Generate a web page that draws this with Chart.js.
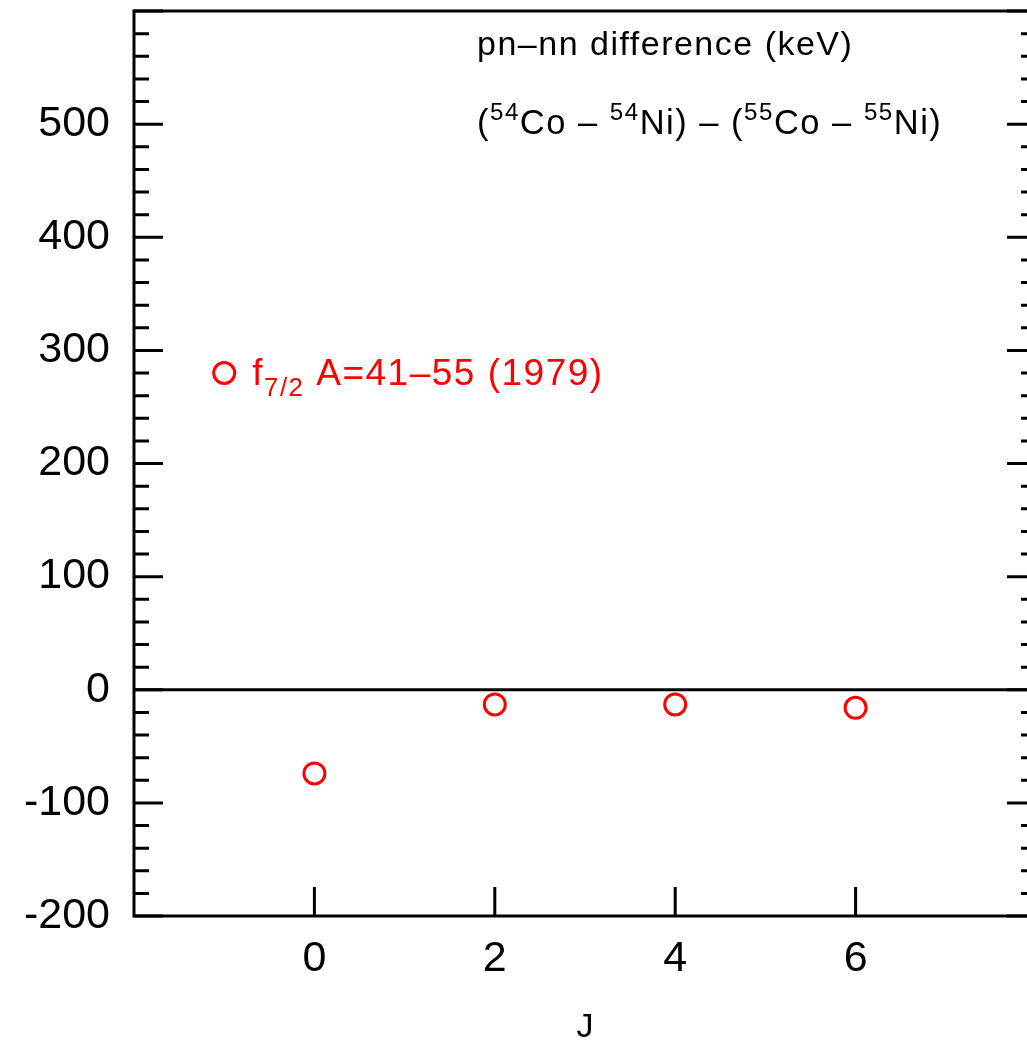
<!DOCTYPE html>
<html>
<head>
<meta charset="utf-8">
<script src="https://cdn.jsdelivr.net/npm/chart.js@4.4.1/dist/chart.umd.min.js"></script>
<style>
  html, body { margin: 0; padding: 0; background: #fff; overflow: hidden; }
  #wrap { width: 1027px; height: 1042px; overflow: hidden; }
  canvas { display: block; max-width: none; }
</style>
</head>
<body>
<div id="wrap"><canvas id="myChart" width="1036" height="1042"></canvas></div>
<script>
// datos del grafico
const jValues = [0, 2, 4, 6];
const pnDiff = [-74, -13, -13, -16];
const xTickValues = [0, 2, 4, 6];
const yMajorStep = 100;
const yMinorStep = 20;
const legendPoint = [-1, 280];

const RED = 'rgb(255,0,0)';
const FONT = '"Liberation Sans", Arial, Helvetica, sans-serif';

// escribe texto con superindices y subindices
function drawRich(ctx, x, y, parts, size, color) {
    ctx.save();
    ctx.fillStyle = color;
    ctx.textBaseline = 'alphabetic';
    ctx.textAlign = 'left';
    ctx.letterSpacing = '1.5px';
    for (const [txt, kind] of parts) {
        let s = size, dy = 0;
        if (kind === 'sup') { s = size * 0.7; dy = -size * 0.4; }
        if (kind === 'sub') { s = size * 0.7; dy = size * 0.3; }
        ctx.font = s + 'px ' + FONT;
        ctx.fillText(txt, x, y + dy);
        x += ctx.measureText(txt).width;
    }
    ctx.restore();
}

// marcos, ticks hacia adentro y anotaciones
const framePlugin = {
    id: 'frame',
    afterDraw(chart) {
        const ctx = chart.ctx;
        const xs = chart.scales.x, ys = chart.scales.y;
        const a = chart.chartArea;
        ctx.save();
        ctx.strokeStyle = '#000';
        ctx.lineWidth = 3;
        ctx.lineCap = 'butt';

        // marco
        ctx.beginPath();
        ctx.rect(a.left, a.top, a.right - a.left, a.bottom - a.top);
        ctx.stroke();

        // linea del cero
        const y0 = ys.getPixelForValue(0);
        ctx.beginPath();
        ctx.moveTo(a.left, y0);
        ctx.lineTo(a.right, y0);
        ctx.stroke();

        // ticks eje y (izq y der)
        ctx.beginPath();
        for (let v = ys.min; v <= ys.max; v += yMinorStep) {
            const py = ys.getPixelForValue(v);
            const len = (v % yMajorStep === 0) ? 29 : 15;
            ctx.moveTo(a.left, py);
            ctx.lineTo(a.left + len, py);
            ctx.moveTo(a.right, py);
            ctx.lineTo(a.right - len, py);
        }
        // ticks eje x
        for (const v of xTickValues) {
            const px = xs.getPixelForValue(v);
            ctx.moveTo(px, a.bottom);
            ctx.lineTo(px, a.bottom - 29);
        }
        ctx.stroke();

        // leyenda
        const lx = xs.getPixelForValue(legendPoint[0]);
        const ly = ys.getPixelForValue(legendPoint[1]);
        ctx.strokeStyle = RED;
        ctx.beginPath();
        ctx.arc(lx, ly, 10.5, 0, Math.PI * 2);
        ctx.stroke();
        ctx.restore();

        drawRich(ctx, lx + 28, ly + 12, [
            ['f', 'n'], ['7/2', 'sub'], [' A=41–55 (1979)', 'n']
        ], 37, RED);

        // anotaciones
        drawRich(ctx, 477, 55, [['pn–nn difference (keV)', 'n']], 34, '#000');
        drawRich(ctx, 477, 134, [
            ['(', 'n'], ['54', 'sup'], ['Co – ', 'n'], ['54', 'sup'], ['Ni) – (', 'n'],
            ['55', 'sup'], ['Co – ', 'n'], ['55', 'sup'], ['Ni)', 'n']
        ], 34.5, '#000');
    }
};

let ctx = document.getElementById('myChart');
let myChart = new Chart(ctx, {
    type: 'scatter',
    data: {
        datasets: [{
            label: 'f7/2 A=41-55 (1979)',
            data: jValues.map((j, i) => ({ x: j, y: pnDiff[i] })),
            pointStyle: 'circle',
            pointRadius: 10.5,
            pointHoverRadius: 10.5,
            borderWidth: 3,
            borderColor: RED,
            backgroundColor: 'rgba(0,0,0,0)'
        }]
    },
    options: {
        responsive: false,
        animation: false,
        // el eje derecho queda fuera de la vista, como en la figura original
        layout: { autoPadding: false, padding: { top: 11, right: 0, left: 0, bottom: 0 } },
        plugins: {
            legend: { display: false },
            tooltip: { enabled: false }
        },
        scales: {
            x: {
                type: 'linear',
                min: -2,
                max: 8,
                grid: { display: false, drawTicks: false },
                border: { display: false },
                afterBuildTicks: (scale) => {
                    scale.ticks = xTickValues.map(v => ({ value: v }));
                },
                afterFit: (scale) => {
                    scale.height = 126;
                    scale.paddingLeft = 0;
                    scale.paddingRight = 0;
                },
                ticks: {
                    padding: 17,
                    color: '#000',
                    font: { family: FONT, size: 43 }
                },
                title: {
                    display: true,
                    text: 'J',
                    color: '#000',
                    padding: { top: 0, bottom: -3 },
                    font: { family: FONT, size: 34, lineHeight: 1.0 }
                }
            },
            y: {
                type: 'linear',
                min: -200,
                max: 600,
                grid: { display: false, drawTicks: false },
                border: { display: false },
                afterFit: (scale) => {
                    scale.width = 134;
                    scale.paddingTop = 0;
                    scale.paddingBottom = 0;
                },
                ticks: {
                    stepSize: yMajorStep,
                    padding: 24,
                    color: '#000',
                    font: { family: FONT, size: 43 },
                    callback: (v) => (v >= 600 ? '' : String(v))
                }
            }
        }
    },
    plugins: [framePlugin]
});
</script>
</body>
</html>
